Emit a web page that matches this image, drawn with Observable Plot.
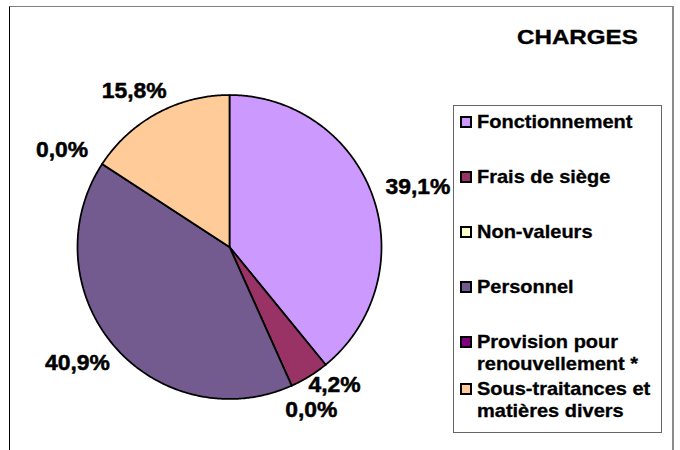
<!DOCTYPE html>
<html><head><meta charset="utf-8">
<script src="https://cdn.jsdelivr.net/npm/d3@7"></script>
<script src="https://cdn.jsdelivr.net/npm/@observablehq/plot@0.6"></script>
<style>
body{margin:0;background:#fff;}
#wrap{position:relative;width:680px;height:450px;overflow:hidden;font-family:"Liberation Sans",Arial,sans-serif;}
#frame{position:absolute;left:9px;top:6px;width:662px;height:460px;border-left:1px solid #000;border-top:1px solid #808080;border-right:2px solid #8c8c8c;pointer-events:none;}
#title{position:absolute;left:517px;top:25.5px;font-weight:bold;font-size:21px;line-height:21px;transform:scaleX(1.15);transform-origin:0 0;white-space:nowrap;color:#000;-webkit-text-stroke:0.35px #000;}
#legend{position:absolute;left:453px;top:105px;width:209px;height:328px;box-sizing:border-box;border:1px solid #666;padding:5px 0 0 7px;background:#fff;}
.lg-swatches{font-family:"Liberation Sans",Arial,sans-serif !important;font-size:17.7px !important;font-weight:bold;margin:0 !important;color:#000;}
.lg-swatch{display:flex !important;align-items:flex-start !important;padding:0 !important;margin-bottom:33px;}
.lg-swatch:nth-of-type(5){margin-bottom:3px;}
.lg-swatch > svg{margin-right:6px !important;margin-top:6px;overflow:visible;flex-shrink:0;}
.lg-swatch > svg rect{stroke:#000;stroke-width:2px;}
.lg-swatch-label{white-space:normal !important;overflow:visible !important;text-overflow:clip !important;line-height:22px;width:158px;flex:none;transform:scaleX(1.13);transform-origin:0 0;-webkit-text-stroke:0.3px #000;}
</style>
</head><body>
<div id="wrap">
  <div id="plot"></div>
  <div id="title"></div>
  <div id="legend"></div>
  <div id="frame"></div>
</div>
<script>
const chartTitle = "CHARGES";
const categories = ["Fonctionnement", "Frais de siège", "Non-valeurs", "Personnel", "Provision pour renouvellement *", "Sous-traitances et matières divers"];
const shares = [39.1, 4.2, 0.0, 40.9, 0.0, 15.8];
const colors = ["#cc99ff", "#993366", "#ffffcc", "#735a8f", "#800080", "#ffcc99"];

const fmt = v => v.toFixed(1).replace(".", ",") + "%";
const R = 152, CX = 229, CY = 246.5;

const total = d3.sum(shares);
let acc = 0;
const slices = categories.map((name, i) => {
  const a0 = acc / total * 2 * Math.PI; acc += shares[i];
  const a1 = acc / total * 2 * Math.PI;
  return {name, value: shares[i], a0, a1};
});
const pts = [];
for (const s of slices) {
  pts.push({name: s.name, x: 0, y: 0});
  const n = Math.max(1, Math.ceil((s.a1 - s.a0) / (Math.PI / 360)));
  for (let k = 0; k <= n; k++) {
    const a = s.a0 + (s.a1 - s.a0) * k / n;
    pts.push({name: s.name, x: Math.sin(a), y: Math.cos(a)});
  }
  pts.push({name: s.name, x: 0, y: 0});
}
// label placement (pixel offsets from the slice's outer edge, then simple collision avoidance)
const AX = 48, AY = 26, BOXH = 25;
const labels = slices.map(s => {
  const m = (s.a0 + s.a1) / 2, dx = Math.sin(m), dy = -Math.cos(m);
  const text = fmt(s.value);
  return {text, w: text.length * 13.5, px: CX + dx * R + dx * AX, py: CY + dy * R + dy * AY};
});
for (let i = 0; i < labels.length; i++) for (let j = i + 1; j < labels.length; j++) {
  const a = labels[i], b = labels[j];
  if (Math.abs(a.px - b.px) < (a.w + b.w) / 2 && Math.abs(a.py - b.py) < BOXH) {
    const [up, low] = a.py <= b.py ? [a, b] : [b, a];
    up.py = low.py - BOXH;
  }
}
labels.forEach(l => { l.x = (l.px - CX) / R; l.y = (CY - l.py) / R; });

const chart = Plot.plot({
  width: 680, height: 450, margin: 0,
  x: {domain: [-1, 1], range: [CX - R, CX + R], axis: null},
  y: {domain: [-1, 1], range: [CY + R, CY - R], axis: null},
  color: {domain: categories, range: colors},
  style: {background: "transparent", overflow: "visible"},
  marks: [
    Plot.line(pts, {x: "x", y: "y", z: "name", fill: "name", stroke: "#000", strokeWidth: 1.75, strokeLinejoin: "round"}),
    Plot.text(labels, {x: "x", y: "y", text: "text", fontSize: 22, fontWeight: "bold", fontFamily: "Liberation Sans, Arial, sans-serif", fill: "#000", stroke: "#000", strokeWidth: 0.5})
  ]
});
chart.querySelectorAll('g[aria-label="text"] text').forEach(t => {
  const tr = t.getAttribute("transform");
  if (tr) t.setAttribute("transform", tr + " scale(1.04,1)");
  else {
    const x = t.getAttribute("x") || 0, y = t.getAttribute("y") || 0;
    t.removeAttribute("x"); t.removeAttribute("y");
    t.setAttribute("transform", `translate(${x},${y}) scale(1.04,1)`);
  }
});
document.getElementById("plot").appendChild(chart);
document.getElementById("title").textContent = chartTitle;
const leg = chart.legend("color", {columns: 1, className: "lg", swatchSize: 10});
document.getElementById("legend").appendChild(leg);
</script>
</body></html>
